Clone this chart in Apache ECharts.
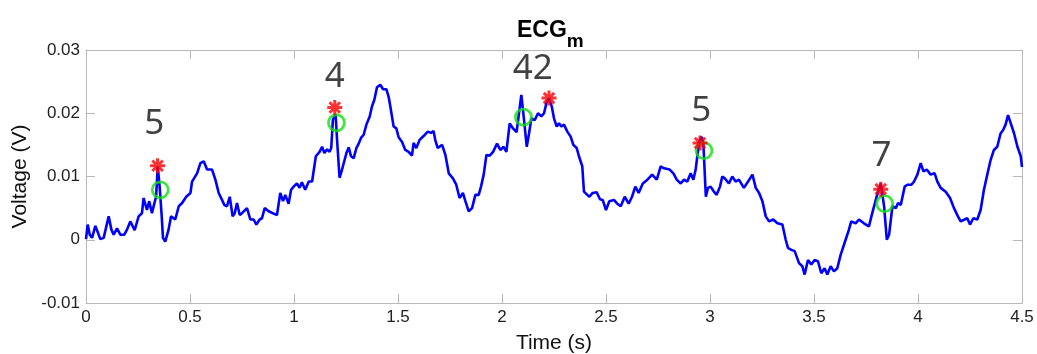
<!DOCTYPE html>
<html>
<head>
<meta charset="utf-8">
<script src="https://cdn.jsdelivr.net/npm/echarts@6/dist/echarts.min.js"></script>
<style>html,body{margin:0;padding:0;background:#fff;}#chart{width:1037px;height:354px;}</style>
</head>
<body>
<div id="chart"></div>
<script>
// ECG trace (time in s, voltage in V)
const ecgTime = [
0.000,0.008,0.018,0.029,0.045,0.069,0.085,0.109,0.122,0.133,0.149,0.165,0.184,0.197,0.213,0.234,0.253,0.269,0.277,0.293,
0.304,0.317,0.329,0.337,0.345,0.354,0.364,0.370,0.381,0.397,0.409,0.429,0.446,0.462,0.482,0.502,0.510,0.534,0.550,0.566,
0.582,0.606,0.622,0.638,0.654,0.665,0.678,0.691,0.705,0.715,0.726,0.739,0.750,0.774,0.790,0.806,0.819,0.835,0.846,0.859,
0.878,0.918,0.934,0.947,0.958,0.974,0.986,0.998,1.014,1.027,1.038,1.054,1.071,1.087,1.094,1.105,1.123,1.135,1.146,1.159,
1.171,1.179,1.187,1.200,1.207,1.219,1.231,1.239,1.252,1.263,1.274,1.287,1.300,1.311,1.322,1.335,1.348,1.364,1.375,1.386,
1.399,1.415,1.428,1.444,1.455,1.466,1.479,1.492,1.503,1.519,1.535,1.551,1.567,1.575,1.588,1.604,1.623,1.643,1.659,1.671,
1.679,1.691,1.712,1.728,1.744,1.764,1.780,1.796,1.812,1.824,1.840,1.856,1.872,1.888,1.899,1.912,1.925,1.941,1.957,1.976,
1.992,2.008,2.021,2.037,2.053,2.070,2.093,2.106,2.119,2.130,2.141,2.157,2.173,2.189,2.202,2.215,2.226,2.239,2.250,2.263,
2.274,2.285,2.298,2.314,2.330,2.343,2.359,2.370,2.386,2.394,2.410,2.420,2.436,2.455,2.471,2.484,2.500,2.516,2.538,2.554,
2.571,2.590,2.609,2.625,2.641,2.657,2.677,2.699,2.722,2.744,2.763,2.779,2.806,2.824,2.840,2.859,2.875,2.891,2.907,2.920,
2.931,2.939,2.947,2.958,2.968,2.980,2.990,3.003,3.019,3.032,3.048,3.059,3.071,3.091,3.107,3.123,3.139,3.163,3.183,3.204,
3.220,3.236,3.252,3.268,3.284,3.304,3.324,3.348,3.364,3.375,3.391,3.407,3.428,3.444,3.455,3.471,3.487,3.503,3.519,3.535,
3.551,3.564,3.580,3.596,3.612,3.628,3.652,3.668,3.679,3.700,3.716,3.740,3.764,3.780,3.801,3.821,3.837,3.850,3.861,3.877,
3.893,3.904,3.917,3.936,3.949,3.968,3.981,3.997,4.013,4.026,4.042,4.061,4.080,4.093,4.109,4.133,4.154,4.173,4.192,4.205,
4.224,4.237,4.250,4.266,4.285,4.301,4.317,4.333,4.349,4.365,4.381,4.397,4.410,4.421,4.433,4.446,4.462,4.478,4.494,4.500
];
const ecgVoltage = [
0.0001,0.0024,0.0008,0.0003,0.0022,0.0001,0.0003,0.0037,0.0016,0.0008,0.0018,0.0008,0.0008,0.0016,0.0029,0.0015,0.0037,0.0042,0.0066,0.0047,
0.0061,0.0042,0.0058,0.0068,0.0116,0.0084,0.0037,0.0003,-0.0003,0.0016,0.0037,0.0032,0.0053,0.0058,0.0068,0.0074,0.0092,0.0105,0.0121,0.0124,
0.0111,0.0111,0.0095,0.0074,0.0063,0.0055,0.0053,0.0068,0.0037,0.0042,0.0058,0.0039,0.0042,0.0050,0.0032,0.0032,0.0024,0.0032,0.0034,0.0050,
0.0045,0.0039,0.0074,0.0061,0.0071,0.0057,0.0079,0.0084,0.0089,0.0082,0.0091,0.0079,0.0092,0.0092,0.0095,0.0132,0.0139,0.0147,0.0137,0.0143,
0.0139,0.0145,0.0190,0.0198,0.0158,0.0098,0.0111,0.0121,0.0137,0.0146,0.0132,0.0129,0.0145,0.0152,0.0161,0.0166,0.0182,0.0195,0.0211,0.0221,
0.0241,0.0245,0.0238,0.0238,0.0226,0.0205,0.0179,0.0176,0.0162,0.0155,0.0142,0.0139,0.0133,0.0153,0.0145,0.0158,0.0164,0.0171,0.0169,0.0172,
0.0158,0.0145,0.0150,0.0134,0.0105,0.0097,0.0087,0.0066,0.0074,0.0061,0.0045,0.0050,0.0071,0.0071,0.0084,0.0103,0.0134,0.0133,0.0139,0.0152,
0.0142,0.0147,0.0139,0.0184,0.0176,0.0170,0.0229,0.0189,0.0147,0.0168,0.0192,0.0189,0.0200,0.0195,0.0200,0.0218,0.0224,0.0211,0.0192,0.0179,
0.0184,0.0179,0.0182,0.0171,0.0163,0.0150,0.0145,0.0132,0.0116,0.0076,0.0071,0.0068,0.0074,0.0075,0.0064,0.0063,0.0047,0.0061,0.0063,0.0057,
0.0053,0.0068,0.0057,0.0068,0.0084,0.0074,0.0089,0.0095,0.0103,0.0095,0.0116,0.0113,0.0111,0.0105,0.0095,0.0089,0.0095,0.0092,0.0105,0.0095,
0.0111,0.0132,0.0153,0.0163,0.0153,0.0068,0.0082,0.0084,0.0076,0.0071,0.0084,0.0100,0.0097,0.0089,0.0100,0.0092,0.0095,0.0082,0.0092,0.0103,
0.0082,0.0074,0.0061,0.0037,0.0029,0.0032,0.0026,0.0024,0.0000,-0.0013,-0.0016,-0.0018,-0.0037,-0.0042,-0.0055,-0.0032,-0.0039,-0.0032,-0.0034,-0.0053,
-0.0045,-0.0055,-0.0042,-0.0050,-0.0045,-0.0024,0.0000,0.0016,0.0029,0.0026,0.0032,0.0026,0.0021,0.0042,0.0068,0.0089,0.0053,0.0000,0.0008,0.0053,
0.0050,0.0058,0.0055,0.0084,0.0087,0.0087,0.0092,0.0103,0.0121,0.0108,0.0111,0.0103,0.0105,0.0092,0.0082,0.0076,0.0066,0.0050,0.0037,0.0029,
0.0032,0.0034,0.0024,0.0034,0.0032,0.0047,0.0079,0.0103,0.0126,0.0142,0.0147,0.0168,0.0174,0.0182,0.0197,0.0184,0.0168,0.0147,0.0132,0.0115
];
// Detected R peaks (red stars) and reference points (green circles)
const starTime = [0.344, 1.196, 2.226, 2.952, 3.821];
const starVoltage = [0.0117, 0.0209, 0.0224, 0.0153, 0.0080];
const circleTime = [0.357, 1.204, 2.103, 2.971, 3.840];
const circleVoltage = [0.0079, 0.0185, 0.0194, 0.0141, 0.0057];
// Number annotations
const noteText = ['5', '4', '42', '5', '7'];
const noteTime = [0.328, 1.196, 2.148, 2.958, 3.824];
const noteLevel = [0.0183, 0.0257, 0.0270, 0.0204, 0.0133];
// Axes
const xTicks = {min: 0, max: 4.5, step: 0.5};
const yTicks = {min: -0.01, max: 0.03, step: 0.01};

const font = 'Liberation Sans, Arial, sans-serif';
const axisGrey = '#b9b9b9';
const pair = (a, b) => a.map((v, i) => [v, b[i]]);

const chart = echarts.init(document.getElementById('chart'), null, {renderer: 'canvas'});
const baseX = {
  type: 'value', min: xTicks.min, max: xTicks.max, interval: xTicks.step,
  axisLine: {show: true, onZero: false, lineStyle: {color: axisGrey, width: 1}},
  axisTick: {show: true, inside: true, length: 9, lineStyle: {color: axisGrey}},
  splitLine: {show: false}
};
const baseY = {
  type: 'value', min: yTicks.min, max: yTicks.max, interval: yTicks.step,
  axisLine: {show: true, onZero: false, lineStyle: {color: axisGrey, width: 1}},
  axisTick: {show: true, inside: true, length: 9, lineStyle: {color: axisGrey}},
  splitLine: {show: false}
};
chart.setOption({
  animation: false,
  backgroundColor: '#fff',
  title: {
    text: '{a|ECG}{b|m}',
    left: 512, top: 14,
    textStyle: {
      rich: {
        a: {fontFamily: font, fontSize: 23, fontWeight: 'bold', color: '#000', lineHeight: 22, verticalAlign: 'top'},
        b: {fontFamily: font, fontSize: 19, fontWeight: 'bold', color: '#000', lineHeight: 19, verticalAlign: 'top', padding: [13, 0, 0, 0]}
      }
    }
  },
  grid: {left: 86, right: 15, top: 50, bottom: 51, containLabel: false, outerBoundsMode: 'none'},
  xAxis: [
    Object.assign({}, baseX, {
      position: 'bottom',
      name: 'Time (s)', nameLocation: 'middle', nameGap: 30,
      nameTextStyle: {fontFamily: font, fontSize: 21, color: '#111'},
      axisLabel: {show: true, margin: 6, fontFamily: font, fontSize: 17, color: '#222',
        formatter: v => String(+v.toFixed(1))}
    }),
    Object.assign({}, baseX, {position: 'top', axisLabel: {show: false}})
  ],
  yAxis: [
    Object.assign({}, baseY, {
      position: 'left',
      name: 'Voltage (V)', nameLocation: 'middle', nameGap: 53,
      nameTextStyle: {fontFamily: font, fontSize: 21, color: '#111'},
      axisLabel: {show: true, margin: 6, fontFamily: font, fontSize: 17, color: '#222',
        formatter: v => String(+v.toFixed(2))}
    }),
    Object.assign({}, baseY, {position: 'right', axisLabel: {show: false}})
  ],
  series: [
    {
      type: 'line', data: pair(ecgTime, ecgVoltage), showSymbol: false, symbol: 'none',
      lineStyle: {color: '#0000ff', width: 2.6}, z: 2
    },
    {
      type: 'scatter', data: pair(circleTime, circleVoltage), symbol: 'circle', symbolSize: 16,
      itemStyle: {color: 'rgba(0,0,0,0)', borderColor: '#10e010', borderWidth: 2.8}, z: 3
    },
    {
      type: 'scatter', data: pair(starTime, starVoltage),
      symbol: 'path://M0,-10L0,10M-10,0L10,0M-7,-7L7,7M-7,7L7,-7', symbolSize: 15,
      itemStyle: {color: 'rgba(0,0,0,0)', borderColor: '#ff0000', borderWidth: 3}, z: 4
    },
    {
      type: 'scatter', data: noteText.map((t, i) => ({value: [noteTime[i], noteLevel[i]], name: t})),
      symbolSize: 0, silent: true, z: 5,
      label: {show: true, position: 'inside', formatter: p => p.name,
        fontFamily: 'Noto Sans, ' + font, fontSize: 35, color: '#111'}
    }
  ]
});
</script>
</body>
</html>
